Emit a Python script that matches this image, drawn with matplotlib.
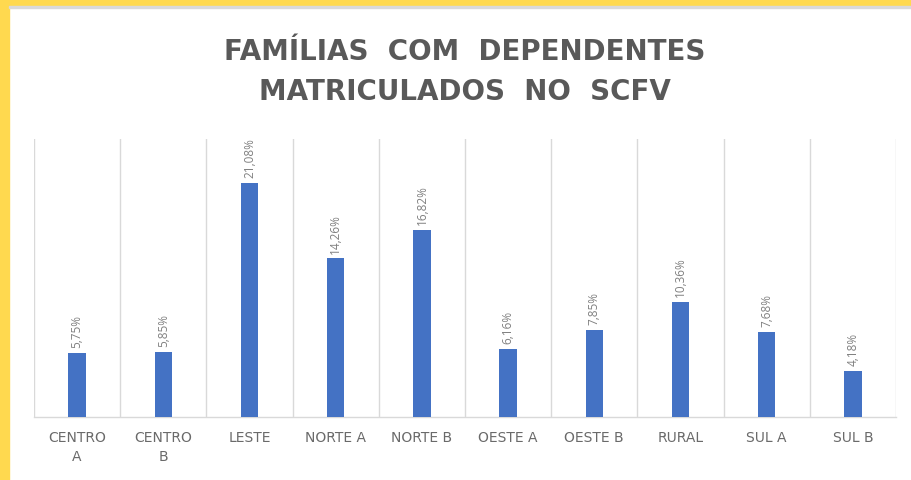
import matplotlib
matplotlib.use("Agg")
import matplotlib.pyplot as plt
from matplotlib.patches import Rectangle

categories = ["CENTRO\nA", "CENTRO\nB", "LESTE", "NORTE A", "NORTE B",
              "OESTE A", "OESTE B", "RURAL", "SUL A", "SUL B"]
values = [5.75, 5.85, 21.08, 14.26, 16.82, 6.16, 7.85, 10.36, 7.68, 4.18]
labels = ["5,75%", "5,85%", "21,08%", "14,26%", "16,82%",
          "6,16%", "7,85%", "10,36%", "7,68%", "4,18%"]
title = "FAMÍLIAS  COM  DEPENDENTES\nMATRICULADOS  NO  SCFV"

plt.rcParams['font.family'] = ['Open Sans', 'DejaVu Sans']

W, H = 912, 481
fig = plt.figure(figsize=(W / 100, H / 100), dpi=100)
fig.patch.set_facecolor("white")

# yellow frame
fig.patches.append(Rectangle((0, 0), 9 / W, 1, transform=fig.transFigure,
                             color="#FFD94F", zorder=0))
fig.patches.append(Rectangle((0, 1 - 7 / H), 1, 7 / H, transform=fig.transFigure,
                             color="#FFD94F", zorder=0))
fig.patches.append(Rectangle((9 / W, 1 - 9 / H), 1, 2 / H, transform=fig.transFigure,
                             color="#D9D9D9", zorder=0))

left, right = 34 / W, 896 / W
bottom, top = 1 - 418 / H, 1 - 140 / H
ax = fig.add_axes([left, bottom, right - left, top - bottom])

x = range(len(categories))
ax.bar(x, values, width=0.2, color="#4472C4", zorder=3)
ax.set_xlim(-0.5, len(categories) - 0.5)
ax.set_ylim(0, 25)

for xi, v, lab in zip(x, values, labels):
    ax.text(xi, v + 0.5, lab, rotation=90, ha="center", va="bottom",
            fontsize=8.5, color="#808080")

# vertical category gridlines
for b in [i - 0.5 for i in range(len(categories) + 1)]:
    ax.axvline(b, color="#D9D9D9", lw=1, zorder=1)

for s in ["top", "right", "left"]:
    ax.spines[s].set_visible(False)
ax.spines["bottom"].set_color("#D9D9D9")
ax.spines["bottom"].set_linewidth(1)
ax.set_yticks([])
ax.set_xticks(list(x))
ax.set_xticklabels(categories, fontsize=10, color="#6A6A6A", linespacing=1.5,
                   family=["DejaVu Sans"])
ax.tick_params(axis="x", length=0, pad=9)

fig.text(465 / W, 1 - 72 / H, title, ha="center", va="center",
         fontsize=20, fontweight="bold", color="#595959", linespacing=1.55,
         family=["DejaVu Sans"])

fig.savefig("out.png", dpi=100)
